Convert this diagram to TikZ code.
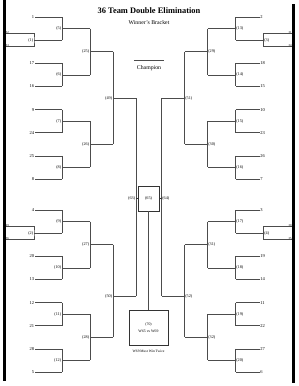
\documentclass[tikz,border=0pt]{standalone}
\usepackage{fontspec}
\setmainfont{Liberation Serif}
\usetikzlibrary{positioning}

\begin{document}
\begin{tikzpicture}[
  x=1pt, y=-1pt,
  every node/.style={inner sep=0.6pt},
  % Styles
  line/.style={draw=black!70, line width=0.7pt},
  bar/.style={draw=black, line width=3pt},
  seed/.style={font=\fontsize{4.5}{5}\selectfont},
  pseed/.style={font=\fontsize{3}{3}\selectfont},
  game/.style={font=\fontsize{4.2}{5}\selectfont},
  gbox/.style={draw=black!80, line width=0.8pt, align=center, font=\fontsize{4.2}{5}\selectfont},
  tick/.style={draw=black!80, line width=1.3pt},
]
\useasboundingbox (0,0) rectangle (298,386);

  % ── TITLE ─────────────────────────────────────────────
  \node[font=\fontsize{8.4}{9}\selectfont\bfseries] (title) at (149,11) {36 Team Double Elimination};
  \node[font=\fontsize{5.8}{6}\selectfont] (sub) at (149,23) {Winner's Bracket};

  % Champion
  \node[font=\fontsize{5.8}{6}\selectfont, minimum width=30pt, minimum height=14pt] (champ) at (149,68) {Champion};
  \draw[line] (champ.north west) -- (champ.north east);

  % ── LEFT HALF ─────────────────────────────────────────
  \foreach \q/\base/\seeds/\pa/\pb/\pg/\ga/\ra in {
      T/17/{0/1,2/17,3/16,4/9,5/24,6/25,7/8}/32/33/1/5/25,
      B/210/{0/4,2/20,3/13,4/12,5/21,6/28,7/5}/29/36/2/9/27} {
    % seeds
    \foreach \i/\s in \seeds {
      \node[seed, anchor=east] (L\q s\i) at (35, \base+23.15*\i) {\s};
      \coordinate (L\q r\i) at (62, \base+23.15*\i);
      \draw[line] (L\q s\i.east) -- (L\q r\i);
    }
    % play-in game
    \coordinate (L\q pa) at (5, \base+16);
    \coordinate (L\q pb) at (5, \base+29);
    \node[pseed, anchor=west] (L\q pat) at (L\q pa) {\pa};
    \node[pseed, anchor=west] (L\q pbt) at (L\q pb) {\pb};
    \node[game, anchor=east] (L\q p) at (34, \base+23.15) {(\pg)};
    \coordinate (L\q r1) at (62, \base+23.15);
    \draw[line] (L\q pa) -| (L\q p.east) |- (L\q pb);
    \draw[line] (L\q p.east) -- (L\q r1);
    % first round
    \foreach \j in {0,1,2,3} {
      \pgfmathtruncatemacro\gn{\ga+\j}
      \pgfmathtruncatemacro\ia{2*\j}
      \pgfmathtruncatemacro\ib{2*\j+1}
      \draw[line] (L\q r\ia) -- (L\q r\ib);
      \node[game, anchor=east] (G\gn) at (62, \base+11.575+46.3*\j) {(\gn)};
      \coordinate (o\gn) at (90, \base+11.575+46.3*\j);
      \draw[line] (G\gn.east) -- (o\gn);
    }
    % second round
    \foreach \k in {0,1} {
      \pgfmathtruncatemacro\gn{\ra+\k}
      \pgfmathtruncatemacro\ca{\ga+2*\k}
      \pgfmathtruncatemacro\cb{\ga+2*\k+1}
      \draw[line] (o\ca) -- (o\cb);
      \node[game, anchor=east] (G\gn) at (90, \base+34.725+92.6*\k) {(\gn)};
      \coordinate (o\gn) at (113, \base+34.725+92.6*\k);
      \draw[line] (G\gn.east) -- (o\gn);
    }
  }
  % third round
  \foreach \gn/\ca/\cb/\y in {49/25/26/98, 50/27/28/296} {
    \draw[line] (o\ca) -- (o\cb);
    \node[game, anchor=east] (G\gn) at (113, \y) {(\gn)};
    \coordinate (o\gn) at (136, \y);
    \draw[line] (G\gn.east) -- (o\gn);
  }

  % ── RIGHT HALF ────────────────────────────────────────
  \foreach \q/\base/\seeds/\pa/\pb/\pg/\ga/\ra in {
      T/17/{0/2,2/18,3/15,4/10,5/23,6/26,7/7}/31/34/3/13/29,
      B/210/{0/3,2/19,3/14,4/11,5/22,6/27,7/6}/30/35/4/17/31} {
    % seeds
    \foreach \i/\s in \seeds {
      \node[seed, anchor=west] (R\q s\i) at (259.5, \base+23.15*\i) {\s};
      \coordinate (R\q r\i) at (235.5, \base+23.15*\i);
      \draw[line] (R\q s\i.west) -- (R\q r\i);
    }
    % play-in game
    \coordinate (R\q pa) at (292.5, \base+16);
    \coordinate (R\q pb) at (292.5, \base+29);
    \node[pseed, anchor=east] (R\q pat) at (R\q pa) {\pa};
    \node[pseed, anchor=east] (R\q pbt) at (R\q pb) {\pb};
    \node[game, anchor=west] (R\q p) at (263.5, \base+23.15) {(\pg)};
    \coordinate (R\q r1) at (235.5, \base+23.15);
    \draw[line] (R\q pa) -| (R\q p.west) |- (R\q pb);
    \draw[line] (R\q p.west) -- (R\q r1);
    % first round
    \foreach \j in {0,1,2,3} {
      \pgfmathtruncatemacro\gn{\ga+\j}
      \pgfmathtruncatemacro\ia{2*\j}
      \pgfmathtruncatemacro\ib{2*\j+1}
      \draw[line] (R\q r\ia) -- (R\q r\ib);
      \node[game, anchor=west] (G\gn) at (235.5, \base+11.575+46.3*\j) {(\gn)};
      \coordinate (o\gn) at (207.5, \base+11.575+46.3*\j);
      \draw[line] (G\gn.west) -- (o\gn);
    }
    % second round
    \foreach \k in {0,1} {
      \pgfmathtruncatemacro\gn{\ra+\k}
      \pgfmathtruncatemacro\ca{\ga+2*\k}
      \pgfmathtruncatemacro\cb{\ga+2*\k+1}
      \draw[line] (o\ca) -- (o\cb);
      \node[game, anchor=west] (G\gn) at (207.5, \base+34.725+92.6*\k) {(\gn)};
      \coordinate (o\gn) at (184.5, \base+34.725+92.6*\k);
      \draw[line] (G\gn.west) -- (o\gn);
    }
  }
  % third round
  \foreach \gn/\ca/\cb/\y in {51/29/30/98, 52/31/32/296} {
    \draw[line] (o\ca) -- (o\cb);
    \node[game, anchor=west] (G\gn) at (184.5, \y) {(\gn)};
    \coordinate (o\gn) at (161.5, \y);
    \draw[line] (G\gn.west) -- (o\gn);
  }

  % ── CENTRE ────────────────────────────────────────────
  \draw[line] (o49) -- (o50);
  \draw[line] (o51) -- (o52);
  \node[gbox, minimum width=21pt, minimum height=25pt] (wb) at (148.5,198.5) {(65)};
  \draw[tick] (o49 |- wb.west) -- (wb.west);
  \draw[tick] (o51 |- wb.east) -- (wb.east);
  \node[game, anchor=east] (G63) at (o49 |- wb.west) {(63)};
  \node[game, anchor=west] (G64) at (o51 |- wb.east) {(64)};

  % Final
  \node[gbox, minimum width=39pt, minimum height=35pt, font=\fontsize{3.8}{7}\selectfont] (final) at (148.5,327.5) {(70)\\W65 vs W69};
  \draw[line] (wb.south) -- (final.north);
  \node[font=\fontsize{3.6}{4}\selectfont, below=4pt of final] (twice) {W69 Must Win Twice};

  % side bars
  \draw[bar] (4.5,0) -- (4.5,381);
  \draw[bar] (293.5,4) -- (293.5,383);

\end{tikzpicture}
\end{document}
